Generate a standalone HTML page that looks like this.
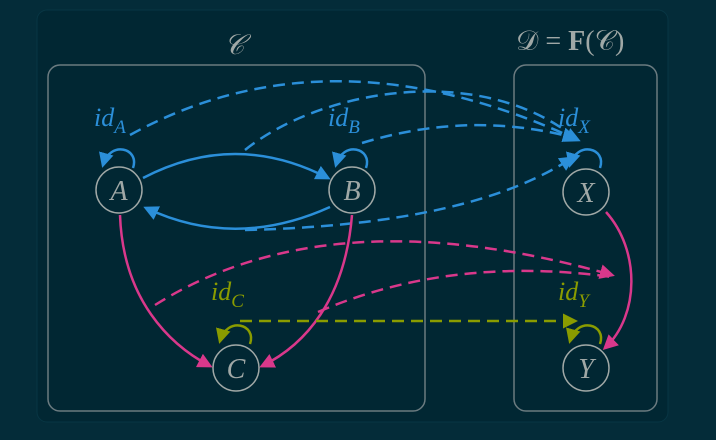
<!DOCTYPE html>
<html><head><meta charset="utf-8"><style>
html,body{margin:0;padding:0;background:#042c39;}
svg{display:block}
text{font-family:"Liberation Serif",serif;font-style:italic}
</style></head><body>
<svg width="716" height="440" viewBox="0 0 716 440">
<defs>
<marker id="mb" viewBox="0 0 10 10" refX="8" refY="5" markerWidth="6" markerHeight="6" orient="auto"><path d="M0,0 L10,5 L0,10 z" fill="#2b8fd9"/></marker>
<marker id="mp" viewBox="0 0 10 10" refX="8" refY="5" markerWidth="6" markerHeight="6" orient="auto"><path d="M0,0 L10,5 L0,10 z" fill="#d9388b"/></marker>
<marker id="mo" viewBox="0 0 10 10" refX="8" refY="5" markerWidth="6" markerHeight="6" orient="auto"><path d="M0,0 L10,5 L0,10 z" fill="#8a9c00"/></marker>
</defs>
<rect x="0" y="0" width="716" height="440" fill="#042c39"/>
<rect x="37" y="10" width="631" height="412" rx="10" fill="#012733" stroke="#083644"/>
<rect x="48" y="65" width="377" height="346" rx="12" fill="none" stroke="#6b7b80" stroke-width="1.5"/>
<rect x="514" y="65" width="143" height="346" rx="12" fill="none" stroke="#6b7b80" stroke-width="1.5"/>
<text x="224" y="54" font-size="28" fill="#a0a8a6">𝒞</text>
<text x="516" y="50" font-size="28" fill="#a0a8a6" style="font-style:normal">𝒟 = <tspan font-weight="bold">F</tspan>(𝒞)</text>

<g fill="none" stroke-width="2.5">
<path d="M130,135 Q330,25 578,140" stroke="#2b8fd9" stroke-dasharray="12,7" marker-end="url(#mb)"/>
<path d="M245,150 C320,90 480,60 578,140" stroke="#2b8fd9" stroke-dasharray="12,7"/>
<path d="M362,143 Q470,110 575,138" stroke="#2b8fd9" stroke-dasharray="12,7" marker-end="url(#mb)"/>
<path d="M245,230 Q470,225 572,158" stroke="#2b8fd9" stroke-dasharray="12,7" marker-end="url(#mb)"/>
<path d="M143,178 Q235,130 328,178" stroke="#2b8fd9" marker-end="url(#mb)"/>
<path d="M330,207 Q235,250 146,208" stroke="#2b8fd9" marker-end="url(#mb)"/>
<path d="M133,168 C140,148 110,140 103,165" stroke="#2b8fd9" marker-end="url(#mb)"/>
<path d="M366,168 C373,148 343,140 336,165" stroke="#2b8fd9" marker-end="url(#mb)"/>
<path d="M600,168 C607,148 577,140 570,165" stroke="#2b8fd9" marker-end="url(#mb)"/>
<path d="M250,344 C257,324 227,316 220,341" stroke="#8a9c00" marker-end="url(#mo)"/>
<path d="M600,344 C607,324 577,316 570,341" stroke="#8a9c00" marker-end="url(#mo)"/>
<path d="M120,215 C123,300 170,345 210,366" stroke="#d9388b" marker-end="url(#mp)"/>
<path d="M352,215 C345,300 305,345 262,366" stroke="#d9388b" marker-end="url(#mp)"/>
<path d="M606,212 C640,250 640,315 605,348" stroke="#d9388b" marker-end="url(#mp)"/>
<path d="M155,305 Q330,195 612,275" stroke="#d9388b" stroke-dasharray="12,7" marker-end="url(#mp)"/>
<path d="M318,312 Q450,255 612,277" stroke="#d9388b" stroke-dasharray="12,7"/>
<path d="M240,321 L575,321" stroke="#8a9c00" stroke-dasharray="12,7" marker-end="url(#mo)"/>
</g>

<g fill="#012733" stroke="#a0a8a6" stroke-width="1.5">
<circle cx="119" cy="190" r="23"/>
<circle cx="352" cy="190" r="23"/>
<circle cx="586" cy="192" r="23"/>
<circle cx="236" cy="368" r="23"/>
<circle cx="586" cy="368" r="23"/>
</g>
<g font-size="28" fill="#a0a8a6" text-anchor="middle">
<text x="119" y="200">A</text>
<text x="352" y="200">B</text>
<text x="586" y="202">X</text>
<text x="236" y="378">C</text>
<text x="586" y="378">Y</text>
</g>
<g font-size="26">
<text x="94" y="126" fill="#2b8fd9">id<tspan font-size="19" dy="7">A</tspan></text>
<text x="328" y="126" fill="#2b8fd9">id<tspan font-size="19" dy="7">B</tspan></text>
<text x="558" y="126" fill="#2b8fd9">id<tspan font-size="19" dy="7">X</tspan></text>
<text x="211" y="300" fill="#8a9c00">id<tspan font-size="19" dy="7">C</tspan></text>
<text x="558" y="300" fill="#8a9c00">id<tspan font-size="19" dy="7">Y</tspan></text>
</g>
</svg>
</body></html>
